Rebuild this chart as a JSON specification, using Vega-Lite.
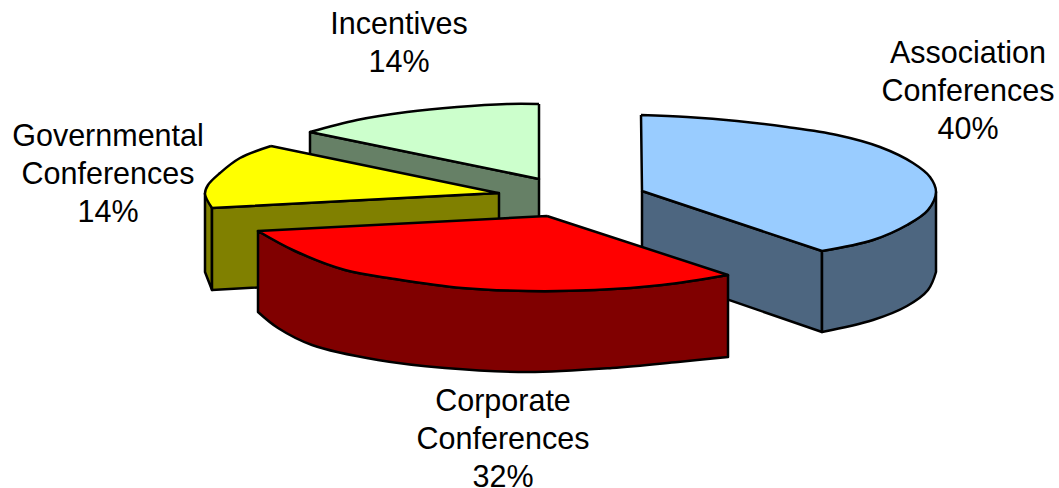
{
"$schema":"https://vega.github.io/schema/vega-lite/v6.json",
"width":1059,"height":488,"padding":0,"autosize":{"type":"none"},
"background":"white","view":{"stroke":null},
"datasets":{
"faces":[
{"face":"Incentives side","i":0,"x":-220,"y":112},{"face":"Incentives side","i":1,"x":9,"y":65},{"face":"Incentives side","i":2,"x":9,"y":65},{"face":"Incentives side","i":3,"x":9,"y":-16},{"face":"Incentives side","i":4,"x":9,"y":-16},{"face":"Incentives side","i":5,"x":-220,"y":31},{"face":"Incentives side","i":6,"x":-220,"y":31},{"face":"Incentives side","i":7,"x":-220,"y":112},
{"face":"Incentives top","i":0,"x":9,"y":140},{"face":"Incentives top","i":1,"x":-23,"y":140},{"face":"Incentives top","i":2,"x":-73,"y":137},{"face":"Incentives top","i":3,"x":-123,"y":132},{"face":"Incentives top","i":4,"x":-173,"y":124},{"face":"Incentives top","i":5,"x":-220,"y":112},{"face":"Incentives top","i":6,"x":-220,"y":112},{"face":"Incentives top","i":7,"x":9,"y":65},{"face":"Incentives top","i":8,"x":9,"y":65},{"face":"Incentives top","i":9,"x":9,"y":140},
{"face":"Governmental outer","i":0,"x":-325,"y":51},{"face":"Governmental outer","i":1,"x":-318,"y":36},{"face":"Governmental outer","i":2,"x":-318,"y":36},{"face":"Governmental outer","i":3,"x":-318,"y":-46},{"face":"Governmental outer","i":4,"x":-318,"y":-46},{"face":"Governmental outer","i":5,"x":-325,"y":-28},{"face":"Governmental outer","i":6,"x":-325,"y":-28},{"face":"Governmental outer","i":7,"x":-325,"y":51},
{"face":"Governmental side","i":0,"x":-318,"y":36},{"face":"Governmental side","i":1,"x":-31,"y":51},{"face":"Governmental side","i":2,"x":-31,"y":51},{"face":"Governmental side","i":3,"x":-31,"y":-30},{"face":"Governmental side","i":4,"x":-31,"y":-30},{"face":"Governmental side","i":5,"x":-318,"y":-46},{"face":"Governmental side","i":6,"x":-318,"y":-46},{"face":"Governmental side","i":7,"x":-318,"y":36},
{"face":"Governmental top","i":0,"x":-259,"y":98},{"face":"Governmental top","i":1,"x":-290,"y":86},{"face":"Governmental top","i":2,"x":-310,"y":71},{"face":"Governmental top","i":3,"x":-322,"y":59},{"face":"Governmental top","i":4,"x":-325,"y":50},{"face":"Governmental top","i":5,"x":-318,"y":36},{"face":"Governmental top","i":6,"x":-318,"y":36},{"face":"Governmental top","i":7,"x":-32,"y":51},{"face":"Governmental top","i":8,"x":-32,"y":51},{"face":"Governmental top","i":9,"x":-259,"y":98},
{"face":"Association side","i":0,"x":112,"y":53},{"face":"Association side","i":1,"x":292,"y":-7},{"face":"Association side","i":2,"x":292,"y":-7},{"face":"Association side","i":3,"x":292,"y":-88},{"face":"Association side","i":4,"x":292,"y":-88},{"face":"Association side","i":5,"x":112,"y":-26},{"face":"Association side","i":6,"x":112,"y":-26},{"face":"Association side","i":7,"x":112,"y":53},
{"face":"Association outer","i":0,"x":292,"y":-7},{"face":"Association outer","i":1,"x":343,"y":4},{"face":"Association outer","i":2,"x":377,"y":19},{"face":"Association outer","i":3,"x":398,"y":34},{"face":"Association outer","i":4,"x":406,"y":52},{"face":"Association outer","i":5,"x":406,"y":52},{"face":"Association outer","i":6,"x":406,"y":-28},{"face":"Association outer","i":7,"x":406,"y":-28},{"face":"Association outer","i":8,"x":398,"y":-46},{"face":"Association outer","i":9,"x":377,"y":-62},{"face":"Association outer","i":10,"x":343,"y":-76},{"face":"Association outer","i":11,"x":292,"y":-88},{"face":"Association outer","i":12,"x":292,"y":-88},{"face":"Association outer","i":13,"x":292,"y":-7},
{"face":"Association top","i":0,"x":111,"y":129},{"face":"Association top","i":1,"x":157,"y":127},{"face":"Association top","i":2,"x":207,"y":123},{"face":"Association top","i":3,"x":257,"y":117},{"face":"Association top","i":4,"x":307,"y":109},{"face":"Association top","i":5,"x":350,"y":97},{"face":"Association top","i":6,"x":383,"y":81},{"face":"Association top","i":7,"x":400,"y":67},{"face":"Association top","i":8,"x":406,"y":52},{"face":"Association top","i":9,"x":398,"y":34},{"face":"Association top","i":10,"x":377,"y":19},{"face":"Association top","i":11,"x":343,"y":4},{"face":"Association top","i":12,"x":292,"y":-7},{"face":"Association top","i":13,"x":292,"y":-7},{"face":"Association top","i":14,"x":112,"y":53},{"face":"Association top","i":15,"x":112,"y":53},{"face":"Association top","i":16,"x":111,"y":129},
{"face":"Corporate outer","i":0,"x":198,"y":-31},{"face":"Corporate outer","i":1,"x":132,"y":-41},{"face":"Corporate outer","i":2,"x":65,"y":-46},{"face":"Corporate outer","i":3,"x":-2,"y":-47},{"face":"Corporate outer","i":4,"x":-68,"y":-44},{"face":"Corporate outer","i":5,"x":-135,"y":-35},{"face":"Corporate outer","i":6,"x":-185,"y":-26},{"face":"Corporate outer","i":7,"x":-235,"y":-7},{"face":"Corporate outer","i":8,"x":-272,"y":13},{"face":"Corporate outer","i":9,"x":-272,"y":13},{"face":"Corporate outer","i":10,"x":-272,"y":-68},{"face":"Corporate outer","i":11,"x":-272,"y":-68},{"face":"Corporate outer","i":12,"x":-252,"y":-84},{"face":"Corporate outer","i":13,"x":-218,"y":-101},{"face":"Corporate outer","i":14,"x":-152,"y":-116},{"face":"Corporate outer","i":15,"x":-85,"y":-124},{"face":"Corporate outer","i":16,"x":-2,"y":-128},{"face":"Corporate outer","i":17,"x":82,"y":-124},{"face":"Corporate outer","i":18,"x":148,"y":-118},{"face":"Corporate outer","i":19,"x":198,"y":-113},{"face":"Corporate outer","i":20,"x":198,"y":-113},{"face":"Corporate outer","i":21,"x":198,"y":-31},
{"face":"Corporate top","i":0,"x":17,"y":28},{"face":"Corporate top","i":1,"x":198,"y":-31},{"face":"Corporate top","i":2,"x":198,"y":-31},{"face":"Corporate top","i":3,"x":132,"y":-41},{"face":"Corporate top","i":4,"x":65,"y":-46},{"face":"Corporate top","i":5,"x":-2,"y":-47},{"face":"Corporate top","i":6,"x":-68,"y":-44},{"face":"Corporate top","i":7,"x":-135,"y":-35},{"face":"Corporate top","i":8,"x":-185,"y":-26},{"face":"Corporate top","i":9,"x":-235,"y":-7},{"face":"Corporate top","i":10,"x":-272,"y":13},{"face":"Corporate top","i":11,"x":-272,"y":13},{"face":"Corporate top","i":12,"x":17,"y":28}
],
"labels":[
{"label":"Association\nConferences\n40%","x":438,"y":190},
{"label":"Corporate\nConferences\n32%","x":-27,"y":-157.5},
{"label":"Governmental\nConferences\n14%","x":-422,"y":107.5},
{"label":"Incentives\n14%","x":-131,"y":219.5}
]},
"layer":[
{"data":{"name":"faces"},
"mark":{"type":"line","filled":true,"stroke":"black","strokeWidth":2.5,"strokeJoin":"round","interpolate":"catmull-rom"},
"encoding":{
"x":{"field":"x","type":"quantitative","axis":null,"scale":{"domain":[-530,529],"nice":false,"zero":false}},
"y":{"field":"y","type":"quantitative","axis":null,"scale":{"domain":[-244,244],"nice":false,"zero":false}},
"order":{"field":"i"},
"detail":{"field":"face"},
"fill":{"field":"face","type":"nominal","legend":null,"scale":{
"domain":["Incentives side","Incentives top","Governmental outer","Governmental side","Governmental top","Association side","Association outer","Association top","Corporate outer","Corporate top"],
"range":["#668066","#CCFFCC","#808000","#808000","#FFFF00","#4D6680","#4D6680","#99CCFF","#800000","#FF0000"]}}
}},
{"data":{"name":"labels"},
"mark":{"type":"text","font":"Liberation Sans","fontSize":30.5,"lineHeight":38,"lineBreak":"\n","align":"center","baseline":"middle","color":"black"},
"encoding":{
"x":{"field":"x","type":"quantitative","axis":null,"scale":{"domain":[-530,529],"nice":false,"zero":false}},
"y":{"field":"y","type":"quantitative","axis":null,"scale":{"domain":[-244,244],"nice":false,"zero":false}},
"text":{"field":"label"}
}}
]
}
